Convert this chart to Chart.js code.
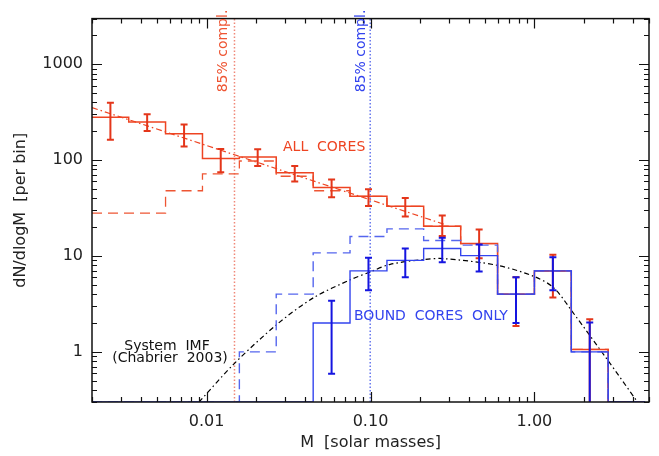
<!DOCTYPE html>
<html>
<head>
<meta charset="utf-8">
<script src="https://cdn.jsdelivr.net/npm/chart.js@4.4.1/dist/chart.umd.min.js"></script>
<style>
  html, body { margin: 0; padding: 0; background: #fff; }
</style>
</head>
<body>
<canvas id="imf" width="659" height="456"></canvas>
<script>

// Core mass functions (dN/dlogM per bin).

var EMPTY = 0.3;   // empty bins lie on the bottom axis

var binEdges   = [0.002, 0.00335, 0.00562, 0.00944, 0.01585, 0.0266, 0.0447, 0.0750,
                  0.126, 0.211, 0.355, 0.596, 1.0, 1.679, 2.818, 4.73];
var binCenters = [0.00259, 0.00434, 0.00729, 0.0122, 0.0205, 0.0345, 0.0579, 0.0972,
                  0.163, 0.274, 0.460, 0.772, 1.296, 2.175, 3.65];

var allCores      = [280, 250, 189, 104, 108, 74, 52, 42, 33, 20.5, 13.5, 4.0, 7.0, 1.06, EMPTY];
var allCoresRaw   = [28, 28, 48, 72, 98, 68, 48, 42, 33, 20.5, 13.5, 4.0, 7.0, 1.06, EMPTY];
var boundCores    = [EMPTY, EMPTY, EMPTY, EMPTY, EMPTY, EMPTY, 2.0, 7.0, 9.0, 12.0, 10.1, 4.0, 7.0, 1.0, EMPTY];
var boundCoresRaw = [EMPTY, EMPTY, EMPTY, EMPTY, 1.0, 4.0, 10.8, 16, 19.2, 14.5, 13, 4.0, 7.0, 1.0, EMPTY];

var allLo   = [163, 201, 139, 75, 87, 60, 41, 33.3, 25.8, 16.2, 9.5, 1.86, 3.7, EMPTY];
var allHi   = [398, 301, 236, 131, 130, 87, 63, 49.6, 40.4, 26.4, 18.9, 6.0, 10.3, 2.19];
var boundLo = [null, null, null, null, null, null, 0.59, 4.4, 6.0, 8.6, 6.9, 2.0, 4.4, EMPTY];
var boundHi = [null, null, null, null, null, null, 3.41, 9.6, 12.0, 15.5, 13.2, 6.0, 9.7, 2.03];

// power law fit to all cores
var fitMass  = [0.002, 0.28];
var fitValue = [354, 21.5];

// system IMF (Chabrier 2003)
var imfMass  = [0.009, 0.0147, 0.027, 0.0451, 0.0755, 0.1, 0.132, 0.211, 0.28, 0.594, 1.0, 1.31, 1.74, 2.77, 4.22];
var imfValue = [0.3, 0.75, 1.95, 3.69, 5.66, 6.85, 8.2, 9.2, 9.4, 8.0, 6.1, 4.67, 2.5, 0.84, 0.306];

// 85% completeness limits
var complAll   = 0.0148;
var complBound = 0.0996;

var xTickValues = [0.01, 0.1, 1];
var xTickLabels = ["0.01", "0.10", "1.00"];
var yTickValues = [1, 10, 100, 1000];
var yTickLabels = ["1", "10", "100", "1000"];

var RED = "#ee4422", RED_ERR = "#e4361a", BLUE = "#3344ee", BLUE_ERR = "#1515e0";

function steps(vals) {
  var pts = [];
  for (var i = 0; i < vals.length; i++) pts.push({x: binEdges[i], y: vals[i]});
  pts.push({x: binEdges[vals.length], y: vals[vals.length - 1]});
  return pts;
}

function pairs(xs, ys) {
  var pts = [];
  for (var i = 0; i < xs.length; i++) pts.push({x: xs[i], y: ys[i]});
  return pts;
}

// ticks on all four sides, pointing in, plus the frame
var frameTicks = {
  id: "frameTicks",
  afterDraw: function(chart) {
    var ctx = chart.ctx, a = chart.chartArea;
    var xs = chart.scales.x, ys = chart.scales.y;
    ctx.save();
    ctx.strokeStyle = "#111";
    ctx.lineWidth = 1.2;
    ctx.beginPath();
    for (var d = -3; d <= 1; d++) {
      for (var m = 1; m <= 9; m++) {
        var v = m * Math.pow(10, d);
        if (v < xs.min || v > xs.max) continue;
        var px = Math.round(xs.getPixelForValue(v)) + 0.5;
        var len = (m == 1) ? 10 : 5;
        ctx.moveTo(px, a.bottom); ctx.lineTo(px, a.bottom - len);
        ctx.moveTo(px, a.top); ctx.lineTo(px, a.top + len);
      }
    }
    for (var d = -1; d <= 3; d++) {
      for (var m = 1; m <= 9; m++) {
        var v = m * Math.pow(10, d);
        if (v < ys.min || v > ys.max) continue;
        var py = Math.round(ys.getPixelForValue(v)) + 0.5;
        var len = (m == 1) ? 10 : 5;
        ctx.moveTo(a.left, py); ctx.lineTo(a.left + len, py);
        ctx.moveTo(a.right, py); ctx.lineTo(a.right - len, py);
      }
    }
    ctx.stroke();
    ctx.lineWidth = 1.5;
    ctx.strokeRect(a.left, a.top, a.right - a.left, a.bottom - a.top);
    ctx.restore();
  }
};

// vertical error bars with caps
var errorBars = {
  id: "errorBars",
  afterDatasetsDraw: function(chart) {
    var ctx = chart.ctx, a = chart.chartArea;
    var xs = chart.scales.x, ys = chart.scales.y;
    function draw(lo, hi, colour) {
      ctx.strokeStyle = colour;
      ctx.lineWidth = 2;
      ctx.beginPath();
      for (var i = 0; i < lo.length; i++) {
        if (lo[i] == null) continue;
        var px = xs.getPixelForValue(binCenters[i]);
        var y0 = ys.getPixelForValue(lo[i]), y1 = ys.getPixelForValue(hi[i]);
        ctx.moveTo(px, y0); ctx.lineTo(px, y1);
        ctx.moveTo(px - 3.5, y1); ctx.lineTo(px + 3.5, y1);
        if (lo[i] > EMPTY) { ctx.moveTo(px - 3.5, y0); ctx.lineTo(px + 3.5, y0); }
      }
      ctx.stroke();
    }
    ctx.save();
    ctx.beginPath();
    ctx.rect(a.left, a.top, a.right - a.left, a.bottom - a.top);
    ctx.clip();
    draw(allLo, allHi, RED_ERR);
    draw(boundLo, boundHi, BLUE_ERR);
    ctx.restore();
  }
};

// labels inside the plot
var notes = {
  id: "notes",
  afterDraw: function(chart) {
    var ctx = chart.ctx;
    ctx.save();
    ctx.font = "14px 'DejaVu Sans'";
    ctx.textBaseline = "middle";
    ctx.textAlign = "left";
    ctx.fillStyle = RED;
    ctx.fillText("ALL  CORES", 283, 147);
    ctx.fillStyle = BLUE;
    ctx.fillText("BOUND  CORES  ONLY", 354, 316);
    ctx.fillStyle = "#111";
    ctx.textAlign = "center";
    ctx.fillText("System  IMF", 167, 346);
    ctx.fillText("(Chabrier  2003)", 170, 358);

    function vert(text, x, y, colour) {
      ctx.save();
      ctx.translate(x, y);
      ctx.rotate(-Math.PI / 2);
      ctx.fillStyle = colour;
      ctx.textAlign = "center";
      ctx.fillText(text, 0, 0);
      ctx.restore();
    }
    vert("85% compl.", 223, 51, "#ee5533");
    vert("85% compl.", 361, 51, BLUE);
    ctx.restore();
  }
};

var ctx = document.getElementById("imf");

new Chart(ctx, {
  type: "line",
  data: {
    datasets: [
      {data: steps(boundCores), stepped: "before", borderColor: BLUE, borderWidth: 1.4},
      {data: steps(boundCoresRaw), stepped: "before", borderColor: "#5566ee", borderWidth: 1.4, borderDash: [10, 6]},
      {data: steps(allCores), stepped: "before", borderColor: RED, borderWidth: 1.5},
      {data: steps(allCoresRaw), stepped: "before", borderColor: "#ee5533", borderWidth: 1.3, borderDash: [10, 6]},
      {data: pairs(fitMass, fitValue), borderColor: RED, borderWidth: 1.2, borderDash: [6, 3, 1.5, 3]},
      {data: pairs(imfMass, imfValue), borderColor: "#000", borderWidth: 1.2, borderDash: [5, 3, 1.5, 3], tension: 0.3},
      {data: [{x: complAll, y: 0.3}, {x: complAll, y: 3000}], borderColor: "#f08878", borderWidth: 1.5, borderDash: [1.5, 2]},
      {data: [{x: complBound, y: 0.3}, {x: complBound, y: 3000}], borderColor: "#6677ee", borderWidth: 1.5, borderDash: [1.5, 2]}
    ]
  },
  options: {
    responsive: false,
    animation: false,
    layout: { padding: {top: 5, right: 10, left: 0, bottom: 0} },
    elements: { point: { radius: 0 } },
    plugins: { legend: { display: false }, tooltip: { enabled: false } },
    scales: {
      x: {
        type: "logarithmic", min: 0.002, max: 5,
        grid: { display: false, drawTicks: false },
        border: { display: false },
        afterBuildTicks: function(scale) {
          scale.ticks = xTickValues.map(function(v) { return {value: v}; });
        },
        afterFit: function(scale) { scale.height = 54; },
        ticks: {
          autoSkip: false, maxRotation: 0, padding: 10, color: "#222",
          font: { family: "'DejaVu Sans'", size: 16 },
          callback: function(value, index) { return xTickLabels[index]; }
        },
        title: {
          display: true, text: "M  [solar masses]", color: "#222",
          font: { family: "'DejaVu Sans'", size: 16 },
          padding: { top: 0, bottom: 4 }
        }
      },
      y: {
        type: "logarithmic", min: 0.3, max: 3000,
        grid: { display: false, drawTicks: false },
        border: { display: false },
        afterBuildTicks: function(scale) {
          scale.ticks = yTickValues.map(function(v) { return {value: v}; });
        },
        afterFit: function(scale) { scale.width = 92; },
        ticks: {
          autoSkip: false, padding: 9, color: "#222",
          font: { family: "'DejaVu Sans'", size: 16 },
          callback: function(value, index) { return yTickLabels[index]; }
        },
        title: {
          display: true, text: "dN/dlogM  [per bin]", color: "#222",
          font: { family: "'DejaVu Sans'", size: 16 },
          padding: { top: 11, bottom: 0 }
        }
      }
    }
  },
  plugins: [frameTicks, errorBars, notes]
});

</script>
</body>
</html>
